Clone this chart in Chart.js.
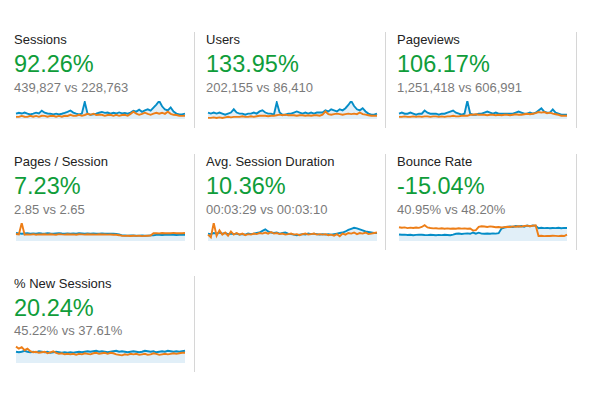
<!DOCTYPE html>
<html>
<head>
<meta charset="utf-8">
<script src="https://cdn.jsdelivr.net/npm/chart.js@4.4.1/dist/chart.umd.min.js"></script>
<style>
  html, body { margin: 0; padding: 0; background: #fff; }
  body { width: 596px; height: 393px; position: relative; overflow: hidden;
         font-family: Arial, "Liberation Sans", sans-serif; }
  .t { position: absolute; white-space: nowrap; line-height: 1; }
  .title { font-size: 13px; color: #222; }
  .big { font-size: 23.5px; color: #0f9d3a; }
  .sub { font-size: 13px; color: #7a7a7a; }
  .div { position: absolute; width: 1px; background: #d6d6d6; }
  canvas { position: absolute; }
</style>
</head>
<body>
<script>
// metric texts
const titles = ["Sessions", "Users", "Pageviews", "Pages / Session", "Avg. Session Duration", "Bounce Rate", "% New Sessions"];
const changes = ["92.26%", "133.95%", "106.17%", "7.23%", "10.36%", "-15.04%", "20.24%"];
const compares = ["439,827 vs 228,763", "202,155 vs 86,410", "1,251,418 vs 606,991", "2.85 vs 2.65", "00:03:29 vs 00:03:10", "40.95% vs 48.20%", "45.22% vs 37.61%"];

// daily values, current period (blue) and previous period (orange)
const sessionsNow = [3300,3900,3400,4000,3300,2800,3350,3950,3500,5200, 3900,3400,3300,2900,3300,2850,3250,3800,4500,5300, 4000,3300,2800,3400,10600,3200,2700,2900,3300,3900, 4400,3800,4000,3300,3900,3400,4100,3500,3800,3300, 4000,5100,4600,5800,4500,5400,6000,5200,7100,9000, 11200,7900,5900,5300,7200,4600,3400,2800,2900,3300];
const sessionsPrev = [1300,1350,1900,1400,1300,1950,1400,1900,1350,2000, 1950,1400,1900,2000,1450,1950,1400,2000,1900,2600, 2000,1950,2600,1950,2500,3200,2600,3300,2500,2600, 2600,1950,2500,2600,2000,2600,1950,2500,2600,2000, 3200,4500,3300,2600,3200,3900,3200,2600,3300,3900, 3300,3900,3200,4500,3200,2600,2500,2000,1950,2000];

const usersNow = [1800,1500,1800,1500,1800,1500,1200,1500,1800,2700, 1800,1500,1500,1200,1500,1500,1800,1500,2100,2400, 1800,1500,1500,1200,4600,1800,1200,1200,1500,1500, 1800,2100,1800,1500,1800,1500,1800,1500,1800,1800, 1800,2400,2100,2700,2400,2100,2700,2400,3000,3900, 5000,3600,2700,2400,3000,2100,1500,1200,1200,1500];
const usersPrev = [300,300,450,300,450,300,450,600,450,600, 600,600,750,600,600,750,600,750,900,900, 900,750,900,900,1050,1200,1050,1200,1050,1050, 1050,900,1050,1050,900,1050,900,1050,1050,900, 1200,2100,1350,1200,1350,1500,1350,1200,1350,1500, 1350,1500,1350,1800,1350,1200,1050,900,900,900];

const pageviewsNow = [3800,4560,3800,3800,4560,3800,3040,3800,3800,6080, 4560,3800,3800,3800,3040,3800,3800,4560,5320,6080, 4560,3800,3040,3800,12900,3800,3040,3040,3800,3800, 4560,5320,4560,3800,4560,3800,3800,3800,3800,3800, 3800,4560,5320,4560,3800,3800,4560,3800,4560,6080, 7600,5320,4560,4560,6840,4560,3800,3040,3040,3040];
const pageviewsPrev = [1520,1520,1900,1520,1520,1900,1520,1900,1520,1900, 1900,1520,1900,1900,1520,1900,1520,1900,1900,2280, 1900,1900,2280,2280,2280, 3040,3040,3420,3040,3040, 3040,2660,3040,3040,2660,3040,2660,3040,3040,2660, 3040,3420,3040,3040,3420,3800,3420,3800,4180,4940, 4560,4940,4180,4560,3800,3420,3040,2280,2280,2280];

const pagesNow = [2.96,2.81,2.66,2.78,2.89,2.74,2.81,2.70,2.85,2.78, 2.74,2.89,2.78,2.70,2.81,2.92,2.78,2.74,2.81,2.70, 2.78,2.74,2.85,2.78,2.70,2.81,2.74,2.78,2.70,2.74, 2.78,2.66,2.74,2.70,2.66,2.63,2.44, 2.07,2.04,2.00,2.07,2.04,1.96,2.00,2.04,1.96,2.00,2.07,2.15, 2.26,2.29,2.22,2.26,2.33,2.26,2.29,2.22,2.29,2.26,2.29];
const pagesPrev = [2.59,2.41,6.66,2.29,2.44,2.37,2.52,2.33,2.44,2.41, 2.48,2.37,2.52,2.41,2.33,2.55,2.44,2.37,2.48,2.41, 2.44,2.33,2.48,2.44,2.37,2.52,2.41,2.44,2.37,2.48, 2.41,2.44,2.37,2.41,2.33,2.29,2.15, 1.96,1.89,1.92,1.85,1.96,1.89,1.92,1.81,1.89,1.96,2.00,2.89, 2.92,2.81,2.96,2.85,2.92,2.89,3.00,2.85,2.92,2.89,2.96];

const durationNow = [200,186,215,200,229,200,215,186,200,186, 200,172,186,172,200,186,200,215,229,272, 315,257,229,215,229,200,215,229,200,186, 172,157,172,186,172,200,186,200,186,172, 186,172,186,172,186,200,215,229,257,300, 329,358,343,315,286,257,243,229,215,215];
const durationPrev = [172,100,486,143,286,172,229,143,257,172, 215,172,200,157,186,172,200,186,215,200, 229,200,243,200,215,186,200,172,186,200, 172,186,157,186,200,172,186,200,172,186, 172,186,157,172,143,186,129,200,172,215, 200,229,186,215,200,229,186,200,215,229];

const bounceNow = [38.5,38.2,38.4,38.0,38.3,37.8,38.1,38.4,38.2,38.0, 37.9,38.2,38.0,37.7,38.1,37.9,38.2,38.0,37.8,38.3, 39.2,39.5,39.0,39.4,39.6,39.2,40.5,39.3,40.3, 39.4,39.2,39.5,39.3,39.6,39.4,39.8, 44.5,45.5,46.0,46.5,46.0,47.0,46.5,47.0,46.2,47.5,46.8,47.6,47.2, 44.8,45.2,44.9,45.1,44.7,45.0,44.9,45.2,44.8,45.1,45.0];
const bouncePrev = [45.8,45.2,45.6,44.9,45.4,45.0,45.5,45.1,46.0,47.8, 45.6,45.0,44.6,44.8,44.4,44.7,44.3,44.6,44.2,44.5, 44.3,44.7,44.4,44.6,44.2,44.5, 42.5,42.8, 46.2,46.8,46.5,46.0,46.6,46.2,45.8,46.0, 45.5,45.9,46.3,46.0,46.6,46.2,46.8,46.4,47.0,47.4,46.8,47.2,47.6, 37.0,37.2,36.9,37.1,37.0,37.3,37.1,36.9,37.2,37.0,38.4];

const newNow = [42.5,40.5,42.5,46.3,42.5,40.5,42.5,40.5,44.4,42.5, 40.5,42.5,38.6,40.5,42.5,40.5,38.6,40.5,38.6,40.5, 38.6,40.5,42.5,40.5,42.5,44.4,42.5,44.4,46.3,42.5, 44.4,42.5,40.5,42.5,44.4,46.3,42.5,44.4,42.5,40.5, 42.5,44.4,42.5,40.5,42.5,46.3,44.4,42.5,44.4,40.5, 42.5,44.4,42.5,46.3,44.4,42.5,44.4,42.5,44.4,46.3];
const newPrev = [61.8,54.0,59.8,48.3,54.0,44.4,40.5,42.5,38.6,40.5, 42.5,36.7,40.5,44.4,38.6,34.7,36.7,32.8,34.7,32.8, 34.7,30.9,34.7,32.8,36.7,34.7,32.8,36.7,38.6,34.7, 36.7,38.6,34.7,38.6,36.7,32.8,30.9,29.0,32.8,30.9, 34.7,32.8,34.7,30.9,32.8,34.7,30.9,32.8,36.7,34.7, 30.9,32.8,34.7,32.8,34.7,36.7,34.7,36.7,38.6,38.6];

const seriesNow = [sessionsNow, usersNow, pageviewsNow, pagesNow, durationNow, bounceNow, newNow];
const seriesPrev = [sessionsPrev, usersPrev, pageviewsPrev, pagesPrev, durationPrev, bouncePrev, newPrev];
const yRanges = [[0, 11200], [0, 5000], [0, 12900], [0, 6.66], [0, 486], [32, 50], [0, 68]];

const colX = [14, 206, 397];
const rowPitch = 121.8;

function addText(cls, text, x, y) {
  const d = document.createElement("div");
  d.className = "t " + cls;
  d.textContent = text;
  d.style.left = x + "px";
  d.style.top = y + "px";
  document.body.appendChild(d);
}

titles.forEach((title, i) => {
  const col = i % 3, row = Math.floor(i / 3);
  const x = colX[col], oy = row * rowPitch;
  addText("title", title, x, 33 + oy);
  addText("big", changes[i], x, 53.4 + oy);
  addText("sub", compares[i], x, 80.7 + oy);

  // divider on the right of each card
  const dv = document.createElement("div");
  dv.className = "div";
  dv.style.left = [194, 385, 576][col] + "px";
  dv.style.top = (32 + oy) + "px";
  dv.style.height = "96px";
  document.body.appendChild(dv);

  const cv = document.createElement("canvas");
  const cw = col === 2 ? 172 : 173;
  cv.width = cw; cv.height = 22;
  cv.style.left = (x) + "px";
  cv.style.top = (99 + oy) + "px";
  cv.style.width = cw + "px"; cv.style.height = "22px";
  document.body.appendChild(cv);

  new Chart(cv.getContext("2d"), {
    type: "line",
    data: {
      labels: seriesNow[i].map((_, k) => k),
      datasets: [
        {
          data: seriesPrev[i],
          borderColor: "#ed7e17",
          borderWidth: 1.9,
          fill: false
        },
        {
          data: seriesNow[i],
          borderColor: "#058dc7",
          borderWidth: 1.9,
          backgroundColor: "#e1eff8",
          fill: "start"
        }
      ]
    },
    options: {
      responsive: false,
      animation: false,
      events: [],
      layout: { padding: 2 },
      plugins: { legend: { display: false }, tooltip: { enabled: false } },
      elements: { point: { radius: 0 }, line: { tension: 0 } },
      scales: {
        x: { display: false },
        y: { display: false, min: yRanges[i][0], max: yRanges[i][1] }
      }
    }
  });
});
</script>
</body>
</html>
